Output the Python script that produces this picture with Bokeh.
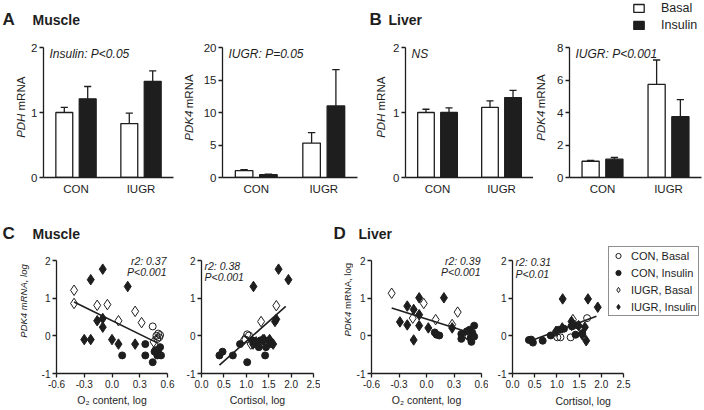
import numpy as np
from bokeh.plotting import figure
from bokeh.layouts import column, row
from bokeh.models import FixedTicker, Label, Legend, LegendItem, Range1d, ColumnDataSource
from bokeh.embed import file_html
from bokeh.resources import INLINE

FONT = "Liberation Sans"
INK = "#1e1e1e"

# ---------------- bar panels: mean and SEM ----------------
groups = ["CON", "IUGR"]
treatments = ["Basal", "Insulin"]

pdh_muscle_basal = [1.00, 0.83]
pdh_muscle_basal_sem = [0.08, 0.16]
pdh_muscle_insulin = [1.21, 1.48]
pdh_muscle_insulin_sem = [0.19, 0.16]

pdk4_muscle_basal = [1.05, 5.3]
pdk4_muscle_basal_sem = [0.15, 1.6]
pdk4_muscle_insulin = [0.42, 11.0]
pdk4_muscle_insulin_sem = [0.08, 5.6]

pdh_liver_basal = [1.00, 1.08]
pdh_liver_basal_sem = [0.05, 0.10]
pdh_liver_insulin = [1.00, 1.23]
pdh_liver_insulin_sem = [0.07, 0.11]

pdk4_liver_basal = [1.00, 5.73]
pdk4_liver_basal_sem = [0.05, 1.50]
pdk4_liver_insulin = [1.13, 3.74]
pdk4_liver_insulin_sem = [0.10, 1.05]

# ---------------- scatter panels (log values) ----------------
o2_ticks = [-0.6, -0.3, 0.0, 0.3, 0.6]
o2_tick_labels = ["-0.6", "-0.3", "0.0", "0.3", "0.6"]
cort_ticks = [0.0, 0.5, 1.0, 1.5, 2.0, 2.5]
cort_tick_labels = ["0.0", "0.5", "1.0", "1.5", "2.0", "2.5"]
logy_ticks = [-1, 0, 1, 2]
logy_tick_labels = ["-1", "0", "1", "2"]

# C, muscle: PDK4 vs O2 content
mo_con_basal_x = [0.44, 0.48, 0.50, 0.51, 0.52, 0.49]
mo_con_basal_y = [0.25, 0.00, 0.06, -0.04, 0.02, -0.08]
mo_con_ins_x = [0.11, 0.36, 0.36, 0.44, 0.47, 0.49, 0.52, 0.50, 0.46, 0.53]
mo_con_ins_y = [-0.52, -0.22, -0.52, -0.70, -0.38, -0.52, -0.30, -0.45, -0.42, -0.52]
mo_iugr_basal_x = [-0.41, -0.41, -0.16, -0.05, 0.07, 0.25, 0.32, 0.45]
mo_iugr_basal_y = [1.21, 0.86, 0.81, 0.83, 0.40, 0.65, 0.35, -0.16]
mo_iugr_ins_x = [-0.10, -0.23, 0.17, -0.16, -0.10, -0.10, -0.30, -0.23, 0.00, 0.07, 0.25]
mo_iugr_ins_y = [1.77, 1.49, 1.31, 0.40, 0.46, 0.23, -0.10, -0.10, -0.10, -0.22, -0.22]
mo_fit_x = [-0.41, 0.50]
mo_fit_y = [0.90, -0.20]

# C, muscle: PDK4 vs cortisol
mc_con_basal_x = [1.02, 1.06, 0.98, 1.20, 1.34]
mc_con_basal_y = [0.04, 0.01, -0.10, -0.22, -0.14]
mc_con_ins_x = [0.40, 0.47, 0.70, 0.86, 1.02, 1.42, 1.28, 1.32, 1.50, 1.56, 1.14, 1.44]
mc_con_ins_y = [-0.52, -0.42, -0.52, -0.22, -0.70, -0.52, -0.30, -0.12, -0.12, -0.22, -0.12, -0.30]
mc_iugr_basal_x = [1.67, 1.33, 0.95, 1.10]
mc_iugr_basal_y = [0.80, 0.38, -0.10, -0.22]
mc_iugr_ins_x = [1.72, 1.94, 1.16, 1.67, 1.64, 1.15, 1.40, 1.52, 1.60, 1.22, 1.37]
mc_iugr_ins_y = [1.77, 1.49, 1.31, 0.44, 0.38, -0.22, -0.10, -0.10, -0.22, -0.16, -0.10]
mc_fit_x = [0.40, 1.88]
mc_fit_y = [-0.78, 0.78]

# D, liver: PDK4 vs O2 content
lo_con_basal_x = [0.46, 0.48, 0.44]
lo_con_basal_y = [-0.02, 0.08, 0.02]
lo_con_ins_x = [0.09, 0.11, 0.14, 0.38, 0.38, 0.47, 0.50, 0.52, 0.48, 0.49, 0.52, 0.44]
lo_con_ins_y = [0.09, 0.03, 0.01, 0.05, -0.08, 0.16, 0.08, 0.27, -0.06, -0.16, -0.02, 0.12]
lo_iugr_basal_x = [-0.38, -0.03, -0.15, 0.10, 0.34, 0.28]
lo_iugr_basal_y = [1.13, 0.86, 0.47, 0.43, 0.63, 0.30]
lo_iugr_ins_x = [-0.08, 0.19, -0.21, -0.14, -0.08, -0.29, -0.21, -0.08, 0.02, -0.14, 0.28]
lo_iugr_ins_y = [1.01, 1.01, 0.79, 0.70, 0.56, 0.37, 0.29, 0.27, 0.21, -0.11, 0.21]
lo_fit_x = [-0.38, 0.50]
lo_fit_y = [0.74, 0.06]

# D, liver: PDK4 vs cortisol
lc_con_basal_x = [1.01, 1.08, 1.31, 1.68]
lc_con_basal_y = [-0.04, -0.04, -0.04, 0.47]
lc_con_ins_x = [0.37, 0.46, 0.68, 0.86, 1.04, 1.16, 1.34, 1.42, 1.57, 1.46, 0.42]
lc_con_ins_y = [-0.11, -0.18, -0.13, 0.01, 0.16, 0.19, 0.25, 0.03, 0.07, 0.28, -0.10]
lc_iugr_basal_x = [1.36]
lc_iugr_basal_y = [0.43]
lc_iugr_ins_x = [1.13, 1.70, 1.92, 1.33, 1.33, 1.49, 1.63, 1.12, 0.98, 1.57, 1.66]
lc_iugr_ins_y = [0.98, 0.98, 0.76, 0.38, 0.28, 0.27, 0.23, 0.21, 0.12, 0.03, -0.13]
lc_fit_x = [0.37, 1.89]
lc_fit_y = [-0.15, 0.52]

legend_labels = ["CON, Basal", "CON, Insulin", "IUGR, Basal", "IUGR, Insulin"]

# ---------------- helpers ----------------
ARIAL_W = {"P": .667, "D": .722, "H": .722, "K": .667, "m": .833, "R": .722,
           "N": .722, "A": .667, "4": .556, ",": .278, " ": .278, "l": .222,
           "o": .556, "g": .556}


def text_w(s, fs):
    return sum(ARIAL_W.get(c, 0.55) for c in s) * fs


def label(p, text, x, y, dx=0, dy=0, size="12px", style="normal",
          align="left", baseline="middle", angle=0.0):
    p.add_layout(Label(x=x, y=y, x_offset=dx, y_offset=dy, text=text,
                       text_font=FONT, text_font_size=size,
                       text_font_style=style, text_align=align,
                       text_baseline=baseline, angle=angle, text_color=INK))


def strip(width, height):
    s = figure(width=width, height=height, x_range=Range1d(0, width),
               y_range=Range1d(0, height), min_border_left=0, min_border_right=0,
               min_border_top=0, min_border_bottom=0, x_axis_location=None,
               y_axis_location=None, output_backend="svg", toolbar_location=None,
               title=None)
    s.grid.visible = False
    s.outline_line_color = None
    s.background_fill_color = "white"
    s.border_fill_color = "white"
    return s


def ystrip(width, height, cx, cy, parts, fs, gap):
    """Vertical axis title made of parts with their own font style."""
    s = strip(width, height)
    widths = [text_w(t, fs) for t, _ in parts]
    pos = cy - (sum(widths) + gap * (len(parts) - 1)) / 2
    for (t, st), w in zip(parts, widths):
        label(s, t, cx, pos + w / 2, size=f"{fs}px", style=st, align="center",
              angle=np.pi / 2)
        pos += w + gap
    return s


def style(p, fs, xticks=True):
    for ax in (p.xaxis[0], p.yaxis[0]):
        ax.axis_line_color = INK
        ax.axis_line_width = 1.3
        ax.major_tick_line_color = INK
        ax.major_tick_line_width = 1.3
        ax.major_tick_in = 0
        ax.major_tick_out = 4
        ax.minor_tick_line_color = None
        ax.major_label_text_font = FONT
        ax.major_label_text_font_size = fs
        ax.major_label_text_color = INK
        ax.major_label_standoff = 2
    if not xticks:
        p.xaxis[0].major_tick_line_color = None
        p.xaxis[0].major_tick_out = 0
        p.xaxis[0].major_label_standoff = 5
    p.xgrid.visible = False
    p.ygrid.visible = False
    p.outline_line_color = None
    p.background_fill_color = "white"
    p.border_fill_color = "white"


TOP_T, TOP_H = 36, 164          # title strip, bar-panel row
TOP_B = (11, 23)                # top / bottom borders of bar panels
BOT_T, BOT_H = 45, 165          # title strip, scatter row
BOT_AX = 15                     # axis top (y = 2) below scatter-row top
BOT_B = 37                      # bottom border of scatter panels
DODGE, BAR_W, CAP = 0.18, 0.26, 0.055


def bar_panel(left, frame, right, ymax, yticks, basal, basal_sem, insulin,
              insulin_sem, note):
    p = figure(width=left + frame + right, height=TOP_H,
               x_range=Range1d(0, len(groups)), y_range=Range1d(0, ymax),
               min_border_left=left, min_border_right=right,
               min_border_top=TOP_B[0], min_border_bottom=TOP_B[1],
               output_backend="svg", toolbar_location=None, title=None)
    centers = np.arange(len(groups)) + 0.5
    for vals, sem, fill, off in ((basal, basal_sem, "white", -DODGE),
                                 (insulin, insulin_sem, INK, DODGE)):
        xs = centers + off
        v = np.array(vals)
        tops = v + np.array(sem)
        p.segment(x0=xs, y0=v, x1=xs, y1=tops, line_color=INK, line_width=1.3)
        p.segment(x0=xs - CAP, y0=tops, x1=xs + CAP, y1=tops,
                  line_color=INK, line_width=1.3)
        p.vbar(x=xs, top=v, bottom=0, width=BAR_W, fill_color=fill,
               line_color=INK, line_width=1.3)
    style(p, "11.5px", xticks=False)
    p.xaxis[0].ticker = FixedTicker(ticks=list(centers))
    p.xaxis[0].major_label_overrides = {float(c): g for c, g in zip(centers, groups)}
    p.yaxis[0].ticker = FixedTicker(ticks=yticks)
    label(p, note, 0, ymax, dx=6, dy=-6, size="12px", style="italic")
    return p


MARKERS = [("circle", False), ("circle", True), ("diamond", False), ("diamond", True)]
PX_PER_Y = (BOT_H - BOT_AX - BOT_B) / 3.0


def scatter_panel(left, frame, right, xr, xticks, xlabels, sets, fit, xtitle,
                  bottom=BOT_B, px_per_x=None):
    # frame reaches the top of the row; axes are bounded to the data range
    frame_h = BOT_H - BOT_B
    p = figure(width=left + frame + right, height=BOT_H - (BOT_B - bottom),
               x_range=Range1d(xr[0], xr[0] + frame / px_per_x if px_per_x else xr[1]),
               y_range=Range1d(-1, -1 + frame_h / PX_PER_Y),
               min_border_left=left, min_border_right=right,
               min_border_top=0, min_border_bottom=bottom,
               output_backend="svg", toolbar_location=None, title=None)
    p.line(fit[0], fit[1], line_color=INK, line_width=1.6)
    rends = []
    for (xs, ys), (marker, filled) in zip(sets, MARKERS):
        kw = dict(marker=marker, line_color=INK, line_width=1,
                  fill_color=INK if filled else None)
        kw.update(size=10.5 if marker == "diamond" else 7)
        rends.append(p.scatter(xs, ys, **kw))
    style(p, "10px")
    p.xaxis[0].ticker = FixedTicker(ticks=xticks)
    p.xaxis[0].major_label_overrides = {float(t): s for t, s in zip(xticks, xlabels)}
    p.xaxis[0].bounds = (xr[0], xr[1])
    p.yaxis[0].ticker = FixedTicker(ticks=logy_ticks)
    p.yaxis[0].major_label_overrides = {float(t): s for t, s in zip(logy_ticks, logy_tick_labels)}
    p.yaxis[0].bounds = (-1, 2)
    if xtitle:
        ax = p.xaxis[0]
        ax.axis_label = xtitle
        ax.axis_label_text_font = FONT
        ax.axis_label_text_font_size = "10.5px"
        ax.axis_label_text_font_style = "normal"
        ax.axis_label_text_color = INK
        ax.axis_label_standoff = 3
    return p, rends


def stats(p, lines, x, align, dys):
    for t, dy in zip(lines, dys):
        label(p, t, x, 2, dx=(-1 if align == "right" else 3), dy=dy,
              size="10.5px", style="italic", align=align)


# ---------------- top row ----------------
t1 = strip(704, TOP_T)
label(t1, "A", 2, TOP_T - 19, size="17px", style="bold")
label(t1, "Muscle", 32, TOP_T - 19, size="14px", style="bold")
label(t1, "B", 369, TOP_T - 19, size="17px", style="bold")
label(t1, "Liver", 388, TOP_T - 19, size="14px", style="bold")
# legend keys (NaN data: nothing is drawn in the strip itself)
key_src = ColumnDataSource(data=dict(x=[np.nan], top=[np.nan]))
key_b = t1.vbar(x="x", top="top", width=1, source=key_src, fill_color="white",
                line_color=INK, line_width=1.3)
key_i = t1.vbar(x="x", top="top", width=1, source=key_src, fill_color=INK,
                line_color=INK, line_width=1.3)
t1.add_layout(Legend(items=[LegendItem(label=treatments[0], renderers=[key_b]),
                            LegendItem(label=treatments[1], renderers=[key_i])],
                     location=(632, 4), glyph_width=13, glyph_height=10,
                     label_height=15, label_standoff=16, spacing=2, padding=0,
                     margin=0, label_text_font=FONT, label_text_font_size="12.5px",
                     label_text_color=INK, border_line_color=None,
                     background_fill_alpha=0))

mid_top = TOP_H - TOP_B[0] - (TOP_H - TOP_B[0] - TOP_B[1]) / 2
yA1 = ystrip(28, TOP_H, 20, mid_top, [("PDH", "italic"), ("mRNA", "normal")], 11.5, 11.5)
pA1 = bar_panel(15, 130, 7, 2, [0, 1, 2], pdh_muscle_basal, pdh_muscle_basal_sem,
                pdh_muscle_insulin, pdh_muscle_insulin_sem, "Insulin: P<0.05")
yA2 = ystrip(20, TOP_H, 8, mid_top, [("PDK4", "italic"), ("mRNA", "normal")], 11.5, 11.5)
pA2 = bar_panel(19, 138, 10, 20, [0, 5, 10, 15, 20], pdk4_muscle_basal,
                pdk4_muscle_basal_sem, pdk4_muscle_insulin, pdk4_muscle_insulin_sem,
                "IUGR: P=0.05")
yB1 = ystrip(23, TOP_H, 13, mid_top, [("PDH", "italic"), ("mRNA", "normal")], 11.5, 11.5)
pB1 = bar_panel(13, 130, 0, 2, [0, 1, 2], pdh_liver_basal, pdh_liver_basal_sem,
                pdh_liver_insulin, pdh_liver_insulin_sem, "NS")
yB2 = ystrip(17, TOP_H, 7, mid_top, [("PDK4", "italic"), ("mRNA", "normal")], 11.5, 11.5)
pB2 = bar_panel(19, 132, 3, 8, [0, 2, 4, 6, 8], pdk4_liver_basal,
                pdk4_liver_basal_sem, pdk4_liver_insulin, pdk4_liver_insulin_sem,
                "IUGR: P<0.001")

# ---------------- bottom row ----------------
t2 = strip(704, BOT_T)
label(t2, "C", 2, BOT_T - 33, size="17px", style="bold")
label(t2, "Muscle", 32, BOT_T - 33, size="14px", style="bold")
label(t2, "D", 333, BOT_T - 33, size="17px", style="bold")
label(t2, "Liver", 358, BOT_T - 33, size="14px", style="bold")

mid_bot = BOT_B + (BOT_H - BOT_AX - BOT_B) / 2
yC1 = ystrip(38, BOT_H, 23, mid_bot, [("PDK4 mRNA, log", "italic")], 9.5, 0)
pC1, _ = scatter_panel(15, 114, 10, (-0.6, 0.6), o2_ticks, o2_tick_labels,
                       [(mo_con_basal_x, mo_con_basal_y), (mo_con_ins_x, mo_con_ins_y),
                        (mo_iugr_basal_x, mo_iugr_basal_y), (mo_iugr_ins_x, mo_iugr_ins_y)],
                       (mo_fit_x, mo_fit_y), "O\u2082 content, log")
stats(pC1, ["r2: 0.37", "P<0.001"], 0.6, "right", [0, -11])

pC2, _ = scatter_panel(24, 112, 7, (0, 2.5), cort_ticks, cort_tick_labels,
                       [(mc_con_basal_x, mc_con_basal_y), (mc_con_ins_x, mc_con_ins_y),
                        (mc_iugr_basal_x, mc_iugr_basal_y), (mc_iugr_ins_x, mc_iugr_ins_y)],
                       (mc_fit_x, mc_fit_y), "Cortisol, log")
stats(pC2, ["r2: 0.38", "P<0.001"], 0, "left", [-5, -16])

yD1 = ystrip(33, BOT_H, 27, mid_bot, [("PDK4", "italic"), ("mRNA, log", "normal")], 9.5, 14)
pD1, _ = scatter_panel(15, 113, 7, (-0.6, 0.6), o2_ticks, o2_tick_labels,
                       [(lo_con_basal_x, lo_con_basal_y), (lo_con_ins_x, lo_con_ins_y),
                        (lo_iugr_basal_x, lo_iugr_basal_y), (lo_iugr_ins_x, lo_iugr_ins_y)],
                       (lo_fit_x, lo_fit_y), "O\u2082 content, log")
stats(pD1, ["r2: 0.39", "P<0.001"], 0.6, "right", [0, -11])

# last panel: frame runs to the right edge (x axis bounded) so the legend can overlap it;
# its x title sits in a strip below so it stays centred under the bounded axis
D2_BOTTOM = 20
D2_PX_X = 44.4
D2_FRAME = 192
pD2, sc_rends = scatter_panel(24, D2_FRAME, 0, (0, 2.5), cort_ticks, cort_tick_labels,
                              [(lc_con_basal_x, lc_con_basal_y), (lc_con_ins_x, lc_con_ins_y),
                               (lc_iugr_basal_x, lc_iugr_basal_y), (lc_iugr_ins_x, lc_iugr_ins_y)],
                              (lc_fit_x, lc_fit_y), None, bottom=D2_BOTTOM, px_per_x=D2_PX_X)
stats(pD2, ["r2: 0.31", "P<0.01"], 0, "left", [-1, -13])
pD2.add_layout(Legend(items=[LegendItem(label=t, renderers=[r])
                             for t, r in zip(legend_labels, sc_rends)],
                      location=(96, 57), glyph_width=14, glyph_height=13, label_height=13,
                      label_standoff=6, spacing=4, padding=2, margin=0,
                      label_text_font=FONT, label_text_font_size="11px",
                      label_text_color=INK, border_line_color=INK, border_line_width=1,
                      background_fill_color="white", background_fill_alpha=1))
xD2 = strip(24 + D2_FRAME, BOT_B - D2_BOTTOM)
label(xD2, "Cortisol, log", 24 + 1.25 * D2_PX_X, (BOT_B - D2_BOTTOM) - 7,
      size="10.5px", align="center")

layout = column(t1, row(yA1, pA1, yA2, pA2, yB1, pB1, yB2, pB2),
                t2, row(yC1, pC1, pC2, yD1, pD1, column(pD2, xD2)))
open("out.html", "w").write(file_html(layout, INLINE))
